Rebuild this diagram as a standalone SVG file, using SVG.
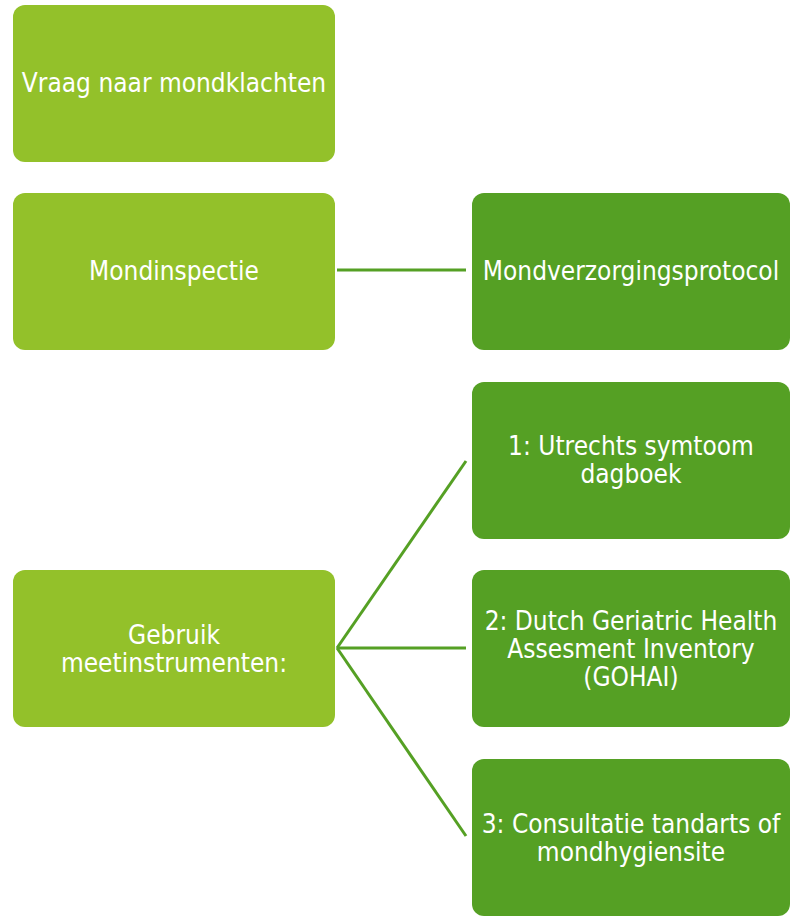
<svg xmlns="http://www.w3.org/2000/svg" width="790" height="916" viewBox="0 0 790 916">
<style>
.l{fill:#93c12a}
.r{fill:#55a024}
text{font-family:"DejaVu Sans Condensed","DejaVu Sans",sans-serif;font-size:26px;fill:#ffffff;text-anchor:middle}
.c{stroke:#55a024;stroke-width:3;fill:none}
</style>
<rect width="790" height="916" fill="#ffffff"/>
<g id="connectors">
<line class="c" x1="337" y1="270" x2="466" y2="270"/>
<line class="c" x1="337" y1="648" x2="466" y2="461"/>
<line class="c" x1="337" y1="648" x2="466" y2="648"/>
<line class="c" x1="337" y1="648" x2="466" y2="836"/>
</g>
<g id="n1"><rect class="l" x="13" y="5" width="322" height="157" rx="12"/><text x="174" y="92">Vraag naar mondklachten</text></g>
<g id="n2"><rect class="l" x="13" y="193" width="322" height="157" rx="12"/><text x="174" y="280">Mondinspectie</text></g>
<g id="n3"><rect class="r" x="472" y="193" width="318" height="157" rx="12"/><text x="631" y="280">Mondverzorgingsprotocol</text></g>
<g id="n4"><rect class="l" x="13" y="570" width="322" height="157" rx="12"/><text x="174" y="644">Gebruik</text><text x="174" y="672">meetinstrumenten:</text></g>
<g id="n5"><rect class="r" x="472" y="382" width="318" height="157" rx="12"/><text x="631" y="455">1: Utrechts symtoom</text><text x="631" y="483">dagboek</text></g>
<g id="n6"><rect class="r" x="472" y="570" width="318" height="157" rx="12"/><text x="631" y="630">2: Dutch Geriatric Health</text><text x="631" y="658">Assesment Inventory</text><text x="631" y="686">(GOHAI)</text></g>
<g id="n7"><rect class="r" x="472" y="759" width="318" height="157" rx="12"/><text x="631" y="833">3: Consultatie tandarts of</text><text x="631" y="861">mondhygiensite</text></g>
</svg>
